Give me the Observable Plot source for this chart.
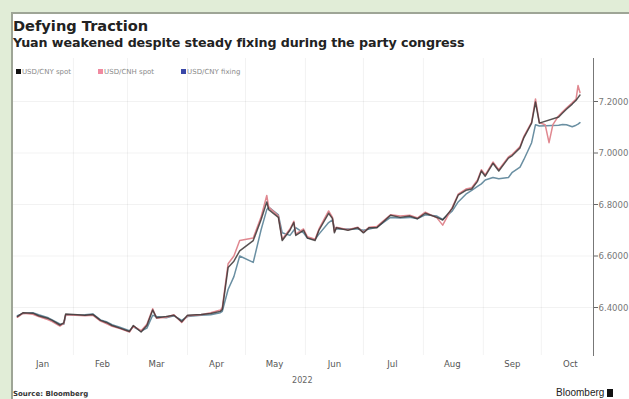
<!DOCTYPE html>
<html><head><meta charset="utf-8">
<script src="https://cdn.jsdelivr.net/npm/d3@7"></script>
<script src="https://cdn.jsdelivr.net/npm/@observablehq/plot@0.6"></script>
<style>
html,body{margin:0;padding:0;}
body{width:629px;height:399px;background:#e1edd7;position:relative;overflow:hidden;font-family:"DejaVu Sans",sans-serif;}
#panel{position:absolute;left:11px;top:12px;width:640px;height:400px;background:#fff;border-left:2px solid #9ea596;border-top:2px solid #9ea596;}
.t{position:absolute;line-height:1;white-space:nowrap;}
#title{left:13px;top:19px;font-weight:bold;font-size:14.6px;color:#222;}
#subtitle{left:13px;top:37.4px;font-weight:bold;font-size:12.7px;color:#222;letter-spacing:-0.1px;}
#legend{left:16px;top:68.5px;font-size:7px;color:#8a8a8a;}
#legend span.sw{display:inline-block;width:5px;height:5px;margin-right:1px;vertical-align:-0.5px;}
#legend span.it{margin-right:27px;}
#year{left:292px;top:376px;font-size:9px;color:#666;font-family:"DejaVu Sans Condensed","DejaVu Sans",sans-serif;}
#source{left:13px;top:391px;font-size:7px;font-weight:bold;color:#333;}
#brand{left:556px;top:388px;font-size:10px;color:#222;font-family:"Liberation Sans",sans-serif;}
#brand span{display:inline-block;width:6px;height:8px;background:#111;margin-left:3px;vertical-align:-1px;}
#chart{position:absolute;left:0;top:0;}
</style></head>
<body>
<div id="panel"></div>
<div id="chart"></div>
<div class="t" id="title">Defying Traction</div>
<div class="t" id="subtitle">Yuan weakened despite steady fixing during the party congress</div>
<div class="t" id="legend"></div>
<div class="t" id="year">2022</div>
<div class="t" id="source">Source: Bloomberg</div>
<div class="t" id="brand">Bloomberg<span></span></div>
<script>
const seriesNames = ["USD/CNY spot", "USD/CNH spot", "USD/CNY fixing"];
const seriesColors = ["#3b3535", "#e08890", "#6a8fa2"];
const legendColors = ["#111111", "#f08aa0", "#3a48a8"];

const dates = ["2022-01-03","2022-01-06","2022-01-11","2022-01-14","2022-01-19","2022-01-21","2022-01-25","2022-01-27","2022-01-28",
"2022-02-07","2022-02-11","2022-02-15","2022-02-18","2022-02-21","2022-02-25",
"2022-03-02","2022-03-04","2022-03-08","2022-03-11","2022-03-14","2022-03-16","2022-03-21","2022-03-25","2022-03-29",
"2022-04-01","2022-04-08","2022-04-13","2022-04-18","2022-04-19","2022-04-22","2022-04-25","2022-04-28",
"2022-05-05","2022-05-09","2022-05-12","2022-05-13","2022-05-18","2022-05-20","2022-05-24","2022-05-26","2022-05-27","2022-05-31",
"2022-06-02","2022-06-06","2022-06-08","2022-06-13","2022-06-15","2022-06-16","2022-06-17","2022-06-23","2022-06-28",
"2022-07-01","2022-07-04","2022-07-08","2022-07-15","2022-07-20","2022-07-25","2022-07-29",
"2022-08-02","2022-08-08","2022-08-11","2022-08-16","2022-08-19","2022-08-23","2022-08-26","2022-08-29","2022-08-31",
"2022-09-02","2022-09-06","2022-09-09","2022-09-14","2022-09-16","2022-09-20","2022-09-22","2022-09-26","2022-09-28","2022-09-30",
"2022-10-03","2022-10-05","2022-10-07","2022-10-10","2022-10-12","2022-10-14","2022-10-17","2022-10-19","2022-10-20","2022-10-21"];

const cnySpot = [6.365,6.380,6.378,6.368,6.357,6.350,6.332,6.340,6.375,
6.370,6.373,6.350,6.342,6.330,6.320,
6.307,6.330,6.305,6.330,6.390,6.360,6.365,6.370,6.345,
6.370,6.373,6.377,6.385,6.392,6.555,6.580,6.620,
6.660,6.740,6.810,6.780,6.750,6.660,6.700,6.730,6.680,6.700,
6.670,6.660,6.700,6.766,6.745,6.690,6.710,6.700,6.710,
6.690,6.710,6.710,6.758,6.750,6.755,6.745,
6.766,6.750,6.740,6.785,6.836,6.855,6.860,6.890,6.930,
6.910,6.960,6.930,6.980,6.990,7.020,7.060,7.116,7.198,7.116,
null,null,null,7.140,7.155,7.170,7.190,7.205,7.215,7.225];

const cnhSpot = [6.362,6.378,6.374,6.365,6.352,6.345,6.328,6.338,6.372,
6.368,6.370,6.347,6.338,6.327,6.318,
6.305,6.328,6.310,6.335,6.395,6.358,6.362,6.372,6.342,
6.368,6.372,6.380,6.390,6.400,6.570,6.600,6.660,
6.670,6.750,6.835,6.790,6.755,6.665,6.705,6.735,6.685,6.705,
6.675,6.665,6.705,6.775,6.750,6.695,6.712,6.702,6.712,
6.692,6.712,6.715,6.760,6.755,6.758,6.748,
6.770,6.748,6.720,6.790,6.840,6.860,6.865,6.895,6.935,
6.915,6.965,6.935,6.985,6.995,7.025,7.065,7.120,7.210,7.118,
7.110,7.040,7.110,7.145,7.160,7.175,7.195,7.210,7.262,7.235];

const cnyFixing = [6.368,6.377,6.380,6.372,6.360,6.352,6.336,6.335,6.370,
6.372,6.375,6.352,6.345,6.333,6.323,
6.310,6.325,6.308,6.320,6.370,6.365,6.360,6.368,6.350,
6.365,6.370,6.372,6.380,6.385,6.470,6.520,6.600,
6.575,6.700,6.780,6.790,6.760,6.690,6.680,6.700,6.710,6.690,
6.670,6.665,6.685,6.730,6.740,6.710,6.705,6.705,6.705,
6.700,6.705,6.712,6.750,6.748,6.750,6.745,
6.760,6.755,6.742,6.775,6.810,6.840,6.855,6.870,6.880,
6.895,6.905,6.900,6.905,6.925,6.945,6.975,7.040,7.110,7.105,
null,null,null,7.108,7.111,7.110,7.102,7.108,7.112,7.118];

const monthLabels = ["Jan","Feb","Mar","Apr","May","Jun","Jul","Aug","Sep","Oct"];
const yTicks = [6.4, 6.6, 6.8, 7.0, 7.2];

const parse = d3.utcParse("%Y-%m-%d");
const rows = dates.map((d, i) => ({date: parse(d), cny: cnySpot[i], cnh: cnhSpot[i], fix: cnyFixing[i]}));
const monthStarts = monthLabels.map((m, i) => new Date(Date.UTC(2022, i, 1))).slice(1);
const monthMids = monthLabels.map((m, i) => new Date(Date.UTC(2022, i, 16)));
const labelByTime = new Map(monthMids.map((d, i) => [+d, monthLabels[i]]));

const lg = document.getElementById("legend");
seriesNames.forEach((n, i) => {
  const it = document.createElement("span");
  it.className = "it";
  it.innerHTML = `<span class="sw" style="background:${legendColors[i]}"></span>${n}`;
  lg.appendChild(it);
});

const chart = Plot.plot({
  width: 629, height: 399,
  marginLeft: 13, marginRight: 36, marginTop: 58, marginBottom: 44,
  style: {background: "transparent", fontFamily: "'DejaVu Sans Condensed','DejaVu Sans',sans-serif", fontSize: "9.5px", color: "#666"},
  x: {type: "utc", domain: [parse("2022-01-01"), parse("2022-10-28")]},
  y: {domain: [6.2136, 7.367]},
  marks: [
    Plot.gridX(monthStarts, {stroke: "#000", strokeOpacity: 0.05}),
    Plot.gridY(yTicks, {stroke: "#000", strokeOpacity: 0.05}),
    Plot.axisX(monthMids, {tickSize: 0, tickPadding: 5, tickFormat: d => labelByTime.get(+d), label: null, fill: "#555"}),
    Plot.axisY(yTicks, {anchor: "right", tickSize: 4, tickPadding: 1, tickFormat: d3.format(".4f"), label: null, fill: "#777", stroke: "#666"}),
    Plot.frame({anchor: "right", stroke: "#777"}),
    Plot.line(rows.filter(d => d.fix != null), {x: "date", y: "fix", stroke: seriesColors[2], strokeWidth: 1.5}),
    Plot.line(rows.filter(d => d.cnh != null), {x: "date", y: "cnh", stroke: seriesColors[1], strokeWidth: 1.5}),
    Plot.line(rows.filter(d => d.cny != null), {x: "date", y: "cny", stroke: seriesColors[0], strokeWidth: 1.5, strokeOpacity: 0.85})
  ]
});
document.getElementById("chart").appendChild(chart);
</script>
</body></html>
